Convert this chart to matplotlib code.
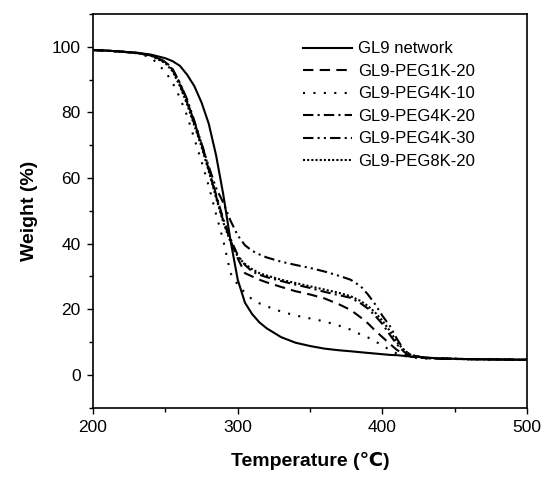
import matplotlib
matplotlib.use("Agg")
import matplotlib.pyplot as plt
from matplotlib.ticker import MultipleLocator

plt.rcParams['font.family'] = ['Liberation Sans', 'DejaVu Sans']

temp = [200, 210, 220, 230, 240, 250, 255, 260, 265, 270, 275, 280, 285, 290, 295,
        300, 305, 310, 315, 320, 330, 340, 350, 360, 370, 378, 385, 390, 395, 400,
        405, 410, 415, 420, 430, 440, 460, 480, 500]

gl9_network = [99, 98.8, 98.5, 98.2, 97.6, 96.5, 95.6, 94.2, 91.5, 88, 83, 76.5, 67, 55, 41,
               29, 22, 18.5, 16, 14.2, 11.5, 9.8, 8.8, 8.0, 7.5, 7.2, 6.9, 6.7, 6.5, 6.3,
               6.1, 6.0, 5.8, 5.6, 5.3, 5.0, 4.8, 4.7, 4.6]
peg1k_20 = [99, 98.8, 98.5, 98.1, 97.4, 95.3, 93, 88.5, 83, 76.5, 70, 62.5, 54.5, 47, 41,
            35.5, 31, 30, 29, 28.2, 26.8, 25.5, 24.5, 23.3, 21.5, 19.8, 17.5, 15.7, 13.5, 11.5,
            9.5, 7.6, 6.3, 5.5, 5.1, 4.9, 4.8, 4.7, 4.6]
peg4k_10 = [99, 98.8, 98.5, 98.0, 96.8, 92.4, 89, 84.5, 79, 72, 65, 57.5, 49, 41, 31,
            27.5, 25, 23, 21.8, 20.9, 19.3, 18.1, 17.2, 16.3, 15, 13.8, 12.3, 11.4, 10.2, 9,
            7.6, 6.5, 5.8, 5.3, 5.0, 4.9, 4.8, 4.7, 4.6]
peg4k_20 = [99, 98.8, 98.5, 98.1, 97.4, 95.5, 93.2, 89, 83.5, 77, 70.5, 63, 55, 47.5, 41.5,
            36.5, 33.5, 31.5, 30.5, 29.8, 28.6, 27.5, 26.5, 25.3, 24.3, 23.5, 21.8, 20.2, 18, 15.5,
            12.3, 9.3, 7, 5.8, 5.2, 5.0, 4.8, 4.7, 4.6]
peg4k_30 = [99, 98.8, 98.5, 98.1, 97.4, 95.3, 93, 89, 84, 77.5, 70.5, 63.5, 57, 52.5, 47,
            42.5, 39.5, 37.8, 36.7, 35.8, 34.5, 33.5, 32.6, 31.5, 30.2, 29, 27, 24.5, 21.5, 18,
            15, 11, 7.5, 6, 5.2, 5.0, 4.8, 4.7, 4.6]
peg8k_20 = [99, 98.8, 98.5, 98.1, 97.3, 95.0, 92.5, 88, 82.5, 76, 69.5, 62, 54, 46.5, 40.5,
            36, 33.8, 32.2, 31, 30.3, 29, 28, 27, 26, 25, 24, 22.5, 21, 19, 16.5,
            13.5, 10, 7.5, 6, 5.2, 5.0, 4.8, 4.7, 4.6]

series = [
    ("GL9 network", gl9_network, '-'),
    ("GL9-PEG1K-20", peg1k_20, (0, (5, 3))),
    ("GL9-PEG4K-10", peg4k_10, (0, (1, 4))),
    ("GL9-PEG4K-20", peg4k_20, (0, (5, 2, 1, 2))),
    ("GL9-PEG4K-30", peg4k_30, (0, (5, 2, 1, 2, 1, 2))),
    ("GL9-PEG8K-20", peg8k_20, (0, (1, 1))),
]

fig = plt.figure(figsize=(5.44, 4.8), dpi=100)
ax = fig.add_axes([0.171, 0.1506, 0.798, 0.8204])

for label, vals, ls in series:
    ax.plot(temp, vals, color='black', linestyle=ls, linewidth=1.5, label=label)

ax.set_xlim(200, 500)
ax.set_ylim(-10, 110)
ax.xaxis.set_major_locator(MultipleLocator(100))
ax.xaxis.set_minor_locator(MultipleLocator(50))
ax.yaxis.set_major_locator(MultipleLocator(20))
ax.yaxis.set_minor_locator(MultipleLocator(10))
ax.tick_params(which='both', direction='out', top=False, right=False, labelsize=12.5, width=1)
ax.tick_params(which='major', length=4, pad=5)
ax.tick_params(which='minor', length=3)
for s in ax.spines.values():
    s.set_linewidth(1.2)

ax.set_xlabel("Temperature (℃)", fontsize=14, fontweight='bold', labelpad=12)
ax.set_ylabel("Weight (%)", fontsize=14, fontweight='bold', labelpad=10)

ax.legend(loc='upper left', frameon=False, fontsize=12, handlelength=2.95,
          labelspacing=0.45, handletextpad=0.35, borderpad=0, borderaxespad=0,
          bbox_to_anchor=(0.484, 0.93))

fig.savefig("out.png", dpi=100)
